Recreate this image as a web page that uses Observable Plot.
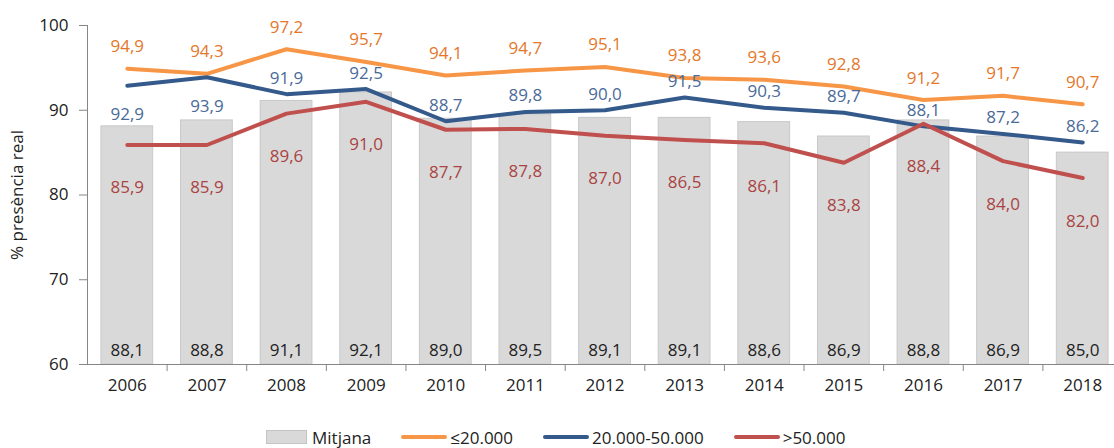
<!DOCTYPE html>
<html>
<head>
<meta charset="utf-8">
<script src="https://cdn.jsdelivr.net/npm/d3@7"></script>
<script src="https://cdn.jsdelivr.net/npm/@observablehq/plot@0.6"></script>
<style>
  html, body { margin: 0; padding: 0; background: #fff; overflow: hidden; }
  body { width: 1114px; height: 448px; font-family: "Open Sans", sans-serif; }
  #legend { display: flex; align-items: center; height: 48px; padding-left: 266px; padding-top: 26px; box-sizing: border-box; font-size: 17px; color: #222; }
  .item { display: flex; align-items: center; margin-right: 30px; }
  .box { width: 41px; height: 14px; background: #d9d9d9; border: 1px solid #c4c4c4; box-sizing: border-box; margin-right: 5px; }
  .ln { width: 46px; height: 4px; border-radius: 2px; margin-right: 3px; }
</style>
</head>
<body>
<div id="chart"></div>
<div id="legend"></div>
<script>
const years = [2006, 2007, 2008, 2009, 2010, 2011, 2012, 2013, 2014, 2015, 2016, 2017, 2018];
const mitjana = [88.1, 88.8, 91.1, 92.1, 89.0, 89.5, 89.1, 89.1, 88.6, 86.9, 88.8, 86.9, 85.0];
const small = [94.9, 94.3, 97.2, 95.7, 94.1, 94.7, 95.1, 93.8, 93.6, 92.8, 91.2, 91.7, 90.7];
const medium = [92.9, 93.9, 91.9, 92.5, 88.7, 89.8, 90.0, 91.5, 90.3, 89.7, 88.1, 87.2, 86.2];
const large = [85.9, 85.9, 89.6, 91.0, 87.7, 87.8, 87.0, 86.5, 86.1, 83.8, 88.4, 84.0, 82.0];
const yTicks = [60, 70, 80, 90, 100];
const seriesNames = ["Mitjana", "≤20.000", "20.000-50.000", ">50.000"];

const colors = { bar: "#d9d9d9", small: "#f79646", medium: "#34598b", large: "#c0504d" };
const textColors = { small: "#e4772a", medium: "#4a6a98", large: "#a94442" };

const fmt = v => d3.format(".1f")(v).replace(".", ",");
const rows = years.map((year, i) => ({ year, mitjana: mitjana[i], small: small[i], medium: medium[i], large: large[i], i }));
const boundaries = years.slice(1).map(y => y - 0.5);

const chart = Plot.plot({
  width: 1114,
  height: 400,
  marginLeft: 87,
  marginRight: -8,
  marginTop: 25,
  marginBottom: 36,
  style: { fontFamily: "'Open Sans', sans-serif", fontSize: "17px", color: "#222", background: "#fff", overflow: "visible" },
  x: { type: "linear", domain: [years[0] - 0.5, years[years.length - 1] + 0.5], axis: null },
  y: { domain: [60, 100], axis: null },
  marks: [
    Plot.rectY(rows, { x1: d => d.year - 0.325, x2: d => d.year + 0.325, y1: 60, y2: "mitjana", fill: colors.bar, stroke: "#c8c8c8", strokeWidth: 1 }),
    Plot.text(rows, { x: "year", y: 60, text: d => fmt(d.mitjana), dy: -14, fill: "#222", fontSize: 17 }),
    Plot.ruleX([years[0] - 0.5], { y1: 60, y2: 100, stroke: "#868686" }),
    Plot.ruleY([60], { stroke: "#868686" }),
    Plot.axisY({ ticks: yTicks, tickSize: 8, tickPadding: 11, stroke: "#868686", fontSize: 17, label: "% presència real", labelAnchor: "center", labelArrow: "none", labelOffset: 77, tickFormat: d => String(d) }),
    Plot.axisX({ ticks: boundaries, tickSize: 7, tickFormat: () => "", stroke: "#868686", label: null }),
    Plot.axisX({ ticks: years, tickSize: 0, tickPadding: 14, tickFormat: d => String(d), fontSize: 17, label: null }),
    Plot.line(rows, { x: "year", y: "small", stroke: colors.small, strokeWidth: 4, strokeLinejoin: "round", strokeLinecap: "round" }),
    Plot.line(rows, { x: "year", y: "medium", stroke: colors.medium, strokeWidth: 4, strokeLinejoin: "round", strokeLinecap: "round" }),
    Plot.line(rows, { x: "year", y: "large", stroke: colors.large, strokeWidth: 4, strokeLinejoin: "round", strokeLinecap: "round" }),
    Plot.text(rows, { x: "year", y: "small", text: d => fmt(d.small), dy: -22, fill: textColors.small, fontSize: 17 }),
    Plot.text(rows.filter(d => d.i < 2), { x: "year", y: "medium", text: d => fmt(d.medium), dy: 29, fill: textColors.medium, fontSize: 17 }),
    Plot.text(rows.filter(d => d.i >= 2), { x: "year", y: "medium", text: d => fmt(d.medium), dy: -16, fill: textColors.medium, fontSize: 17 }),
    Plot.text(rows, { x: "year", y: "large", text: d => fmt(d.large), dy: 43, fill: textColors.large, fontSize: 17 })
  ]
});
document.getElementById("chart").appendChild(chart);

const legend = document.getElementById("legend");
const swatches = [
  { cls: "box", color: null },
  { cls: "ln", color: colors.small },
  { cls: "ln", color: colors.medium },
  { cls: "ln", color: colors.large }
];
seriesNames.forEach((name, k) => {
  const item = document.createElement("div");
  item.className = "item";
  const sw = document.createElement("div");
  sw.className = swatches[k].cls;
  if (swatches[k].color) sw.style.background = swatches[k].color;
  const t = document.createElement("span");
  t.textContent = name;
  item.appendChild(sw);
  item.appendChild(t);
  legend.appendChild(item);
});
</script>
</body>
</html>
